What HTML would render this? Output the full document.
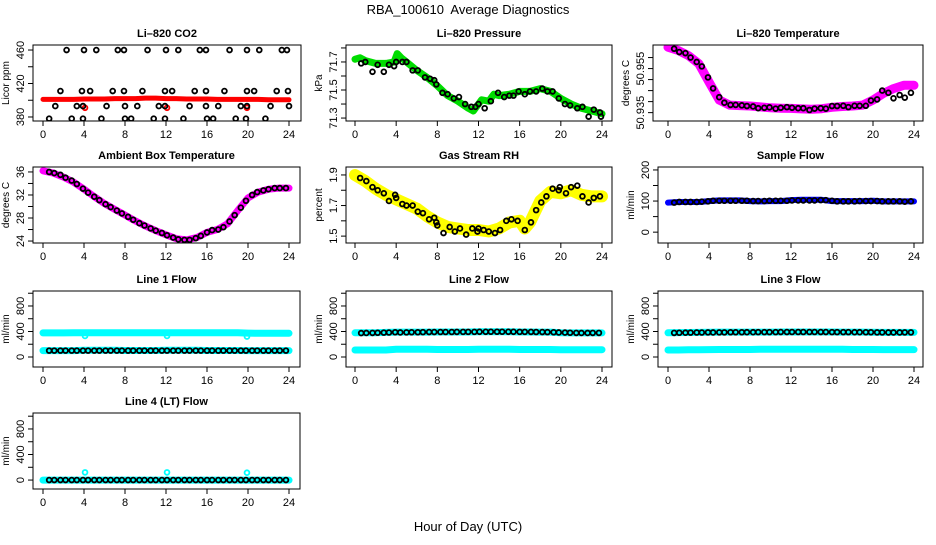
<!DOCTYPE html>
<html><head><meta charset="utf-8"><style>
body{margin:0;background:#fff;}
svg text{font-family:"Liberation Sans",sans-serif;fill:#000;}
</style></head><body>
<svg id="chart" width="936" height="540" viewBox="0 0 936 540" xmlns="http://www.w3.org/2000/svg">
<text x="468" y="14" font-size="13" text-anchor="middle" xml:space="preserve">RBA_100610  Average Diagnostics</text>
<text x="468" y="531" font-size="13" text-anchor="middle">Hour of Day (UTC)</text>
</svg>
<script>
const bandHours = [0,1,2,3,4,5,6,7,8,9,10,11,12,13,14,15,16,17,18,19,20,21,22,23,24];
const blackHours = [0.6,1.1,1.7,2.2,2.8,3.3,3.9,4.4,5.0,5.5,6.1,6.6,7.2,7.7,8.3,8.8,9.4,9.9,10.5,11.0,11.6,12.1,12.7,13.2,13.8,14.3,14.9,15.4,16.0,16.5,17.1,17.6,18.2,18.7,19.3,19.8,20.4,20.9,21.5,22.0,22.6,23.1,23.7];
const xTicks = [0,4,8,12,16,20,24];

// CO2
const co2Band = [401,401,401,401,401.5,401.5,401.5,402,402,402,402.5,402.5,402,402,401.5,401.5,401.5,401,401,401,401,401,400.5,400.5,400.5];
const co2RedHours = [4.1,12.1,19.9];
const co2RedValues = [391,391,391];
const co2BlackHours = [2.3,4.0,5.2,7.3,7.9,10.2,12.0,13.2,15.3,15.9,18.2,19.9,21.1,23.3,23.8, 1.7,3.8,4.6,6.8,7.9,9.7,11.9,12.6,14.8,15.9,17.7,19.9,20.6,22.8,23.9, 1.2,3.3,3.9,6.2,8.0,9.2,11.3,11.9,14.3,15.9,17.1,19.3,19.9,22.2,24.0, 0.6,2.8,3.9,5.7,8.0,8.6,10.8,11.9,13.7,16.0,16.6,18.8,19.8,21.7];
const co2BlackValues = [460,460,460,460,460,460,460,460,460,460,460,460,460,460,460, 411,411,411,411,411,411,411,411,411,411,411,411,411,411,411, 393,393,393,393,393,393,393,393,393,393,393,393,393,393,393, 378,378,378,378,378,378,378,378,378,378,378,378,378,378];

// Pressure
const presBandHours = [0,0.5,1,2,3,3.8,4.1,4.5,5,6,7,8,9,10,11,11.5,12,12.3,13,13.5,14,15,16,17,18,19,20,21,22,23,24];
const presBand = [71.72,71.73,71.71,71.69,71.69,71.70,71.76,71.73,71.70,71.64,71.59,71.53,71.46,71.42,71.37,71.35,71.40,71.43,71.42,71.47,71.46,71.47,71.49,71.49,71.51,71.49,71.44,71.40,71.37,71.35,71.33];
const presBlackHours = [0.6,1,1.7,2.2,2.8,3.3,3.8,4,4.6,5,5.6,6.1,6.8,7.3,7.7,7.9,8.5,9,9.6,10.1,10.7,11.3,11.7,12,12.6,13.2,13.9,14.5,15,15.4,15.9,16.5,17,17.6,18.2,18.7,19.2,19.8,20.4,20.9,21.6,22.1,22.7,23.2,23.8,23.9];
const presBlack = [71.69,71.70,71.63,71.68,71.63,71.68,71.67,71.70,71.70,71.70,71.64,71.64,71.59,71.58,71.57,71.54,71.48,71.47,71.44,71.45,71.40,71.38,71.38,71.40,71.37,71.42,71.48,71.45,71.46,71.46,71.49,71.47,71.49,71.49,71.51,71.49,71.49,71.44,71.40,71.39,71.37,71.38,71.31,71.36,71.34,71.31];

// Li-820 temperature
const tempBand = [50.9647,50.9632,50.9609,50.9572,50.9489,50.9407,50.9384,50.9382,50.9380,50.9376,50.9372,50.9370,50.9369,50.9367,50.9365,50.9368,50.9374,50.9378,50.9380,50.9384,50.9407,50.9437,50.9459,50.9474,50.9474];
const tempBlack = [50.9640,50.9625,50.9620,50.9600,50.9580,50.9560,50.9510,50.9460,50.9420,50.9395,50.9385,50.9385,50.9383,50.9380,50.9378,50.9370,50.9372,50.9374,50.9368,50.9372,50.9375,50.9372,50.9370,50.9370,50.9362,50.9368,50.9370,50.9368,50.9380,50.9380,50.9381,50.9375,50.9381,50.9381,50.9381,50.9405,50.9410,50.9450,50.9440,50.9415,50.9430,50.9418,50.9440];

// Ambient
const ambBand = [36.2,35.8,35.1,34.2,33.0,31.7,30.5,29.5,28.5,27.5,26.6,25.8,25.1,24.4,24.2,24.6,25.5,26.0,27.0,29.3,31.5,32.5,33.0,33.2,33.2];
const ambBlack = [36.0,35.8,35.5,35.0,34.5,33.9,33.1,32.4,31.7,31.1,30.4,29.9,29.3,28.8,28.2,27.7,27.1,26.7,26.2,25.8,25.4,25.0,24.6,24.3,24.2,24.2,24.5,24.9,25.5,25.9,26.0,26.4,27.4,28.5,29.8,31.0,32.0,32.5,32.8,33.0,33.2,33.2,33.2];

// RH
const rhBandHours = [0,1,2,3,4,5,6,7,8,9,10,11,12,13,14,15,16,16.5,17,17.5,18,19,20,21,22,23,24];
const rhBand = [1.90,1.86,1.81,1.77,1.74,1.71,1.68,1.63,1.59,1.56,1.55,1.54,1.54,1.53,1.55,1.59,1.60,1.55,1.59,1.66,1.73,1.79,1.78,1.80,1.77,1.76,1.76];
const rhBlackHours = [0.5,1.1,1.7,2.2,2.8,3.3,3.9,4.0,4.6,5.0,5.6,6.1,6.6,7.2,7.7,7.9,8.0,8.6,9.2,9.7,10.2,10.8,11.4,11.9,12.0,12.5,13.0,13.6,14.1,14.7,15.2,15.8,16.5,17.1,17.6,18.1,18.6,19.2,19.8,19.9,20.5,21.0,21.6,22.1,22.7,23.2,23.8];
const rhBlack = [1.88,1.86,1.82,1.80,1.78,1.73,1.77,1.75,1.71,1.70,1.70,1.66,1.65,1.61,1.62,1.59,1.57,1.52,1.56,1.53,1.55,1.51,1.55,1.53,1.55,1.54,1.53,1.52,1.54,1.60,1.61,1.60,1.54,1.59,1.67,1.72,1.76,1.81,1.80,1.82,1.78,1.82,1.83,1.76,1.72,1.75,1.76];

// Sample flow
const sfBand = [95,97,97,97,100,102,102,102,100,99,100,100,103,104,104,104,100,100,100,100,101,99,99,99,99];
const sfBlack = [95,97,97,97,97,98,99,101,101,101,101,101,101,101,100,100,100,101,101,101,101,102,102,102,102,102,103,103,101,99,99,99,99,100,100,100,100,99,99,99,99,98,99];

// Line flows
const l1Upper = [378,378,378,379,380,380,380,380,380,380,380,380,380,380,380,380,380,380,380,380,375,372,372,372,372];
const l1Lower = [100,100,100,100,105,105,105,105,102,102,102,102,105,105,105,105,102,102,102,102,100,100,100,100,100];
const l1Black = [100,100,100,100,100,100,100,100,100,100,100,100,100,100,100,100,100,100,100,100,100,100,100,100,100,100,100,100,100,100,100,100,100,100,100,100,100,100,100,100,100,100,100];
const l1OutHours = [4.1,12.1,19.9];
const l1OutValues = [330,330,320];
const l2Upper = [380,380,380,385,390,390,390,390,392,392,392,392,395,395,395,395,392,392,390,390,380,378,378,378,378];
const l2Lower = [110,110,110,110,120,120,120,120,118,118,118,118,120,120,120,120,118,118,118,118,115,115,115,115,115];
const l2Black = [375,377,378,380,382,384,388,385,386,388,388,390,391,391,392,392,392,393,394,394,394,395,395,396,396,396,395,395,394,394,393,392,391,390,388,385,383,380,378,377,377,378,378];
const l3Upper = [380,382,384,386,388,390,390,390,390,390,390,392,392,392,392,392,392,390,390,390,388,386,386,386,386];
const l3Lower = [110,110,112,114,116,118,118,118,118,120,120,122,122,122,122,122,120,120,118,118,118,116,116,116,116];
const l3Black = [378,380,381,382,384,384,386,385,386,386,388,388,388,389,389,390,390,390,390,391,391,392,392,392,392,392,391,391,390,390,390,390,389,389,388,388,386,386,385,385,385,386,386];
const l4Band = [0,0,0,0,0,0,0,0,0,0,0,0,0,0,0,0,0,0,0,0,0,0,0,0,0];
const l4Black = [0,0,0,0,0,0,0,0,0,0,0,0,0,0,0,0,0,0,0,0,0,0,0,0,0,0,0,0,0,0,0,0,0,0,0,0,0,0,0,0,0,0,0];
const l4OutHours = [4.1,12.1,19.9];
const l4OutValues = [120,120,115];

const NS = 'http://www.w3.org/2000/svg';
const svg = document.getElementById('chart');
function mk(tag, attrs, parent){
  const e = document.createElementNS(NS, tag);
  for (const k in attrs) e.setAttribute(k, attrs[k]);
  (parent||svg).appendChild(e);
  return e;
}

const panels = [
 {name:'co2', title:'Li\u2013820 CO2', ylab:'Licor ppm', L:33,R:301,x0:43,x24:289,T:45, ymin:375.2,ymax:466, ticks:[380,400,420,440,460], labels:['380','','420','','460'],
  series:[{t:'band',h:bandHours,v:co2Band,c:'#ff0000',w:5},{t:'pts',h:co2RedHours,v:co2RedValues,c:'#ff0000'},{t:'pts',h:co2BlackHours,v:co2BlackValues,c:'#000'}]},
 {name:'pressure', title:'Li\u2013820 Pressure', ylab:'kPa', L:346,R:612,x0:355,x24:602,T:45, ymin:71.279,ymax:71.821, ticks:[71.3,71.4,71.5,71.6,71.7,71.8], labels:['71.3','','71.5','','71.7',''],
  series:[{t:'band',h:presBandHours,v:presBand,c:'#00dd00',w:7},{t:'pts',h:presBlackHours,v:presBlack,c:'#000'}]},
 {name:'li820-temp', title:'Li\u2013820 Temperature', ylab:'degrees C', L:653,R:923,x0:668,x24:914,T:45, ymin:50.9312,ymax:50.9657, ticks:[50.935,50.94,50.945,50.95,50.955,50.96], labels:['50.935','','','','50.955',''],
  series:[{t:'band',h:bandHours,v:tempBand,c:'#ff00ff',w:9},{t:'pts',h:blackHours,v:tempBlack,c:'#000'}]},
 {name:'ambient', title:'Ambient Box Temperature', ylab:'degrees C', L:33,R:300,x0:43,x24:289,T:167, ymin:23.66,ymax:36.86, ticks:[24,26,28,30,32,34,36], labels:['24','','28','','32','','36'],
  series:[{t:'band',h:bandHours,v:ambBand,c:'#ff00ff',w:7},{t:'pts',h:blackHours,v:ambBlack,c:'#000'}]},
 {name:'rh', title:'Gas Stream RH', ylab:'percent', L:346,R:612,x0:355,x24:602,T:167, ymin:1.455,ymax:1.952, ticks:[1.5,1.6,1.7,1.8,1.9], labels:['1.5','','1.7','','1.9'],
  series:[{t:'band',h:rhBandHours,v:rhBand,c:'#ffff00',w:12},{t:'pts',h:rhBlackHours,v:rhBlack,c:'#000'}]},
 {name:'sample-flow', title:'Sample Flow', ylab:'ml/min', L:658,R:923,x0:668,x24:914,T:167, ymin:-34.9,ymax:209.5, ticks:[0,50,100,150,200], labels:['0','','100','','200'],
  series:[{t:'band',h:bandHours,v:sfBand,c:'#0000ff',w:6},{t:'pts',h:blackHours,v:sfBlack,c:'#000'}]},
 {name:'line1-flow', title:'Line 1 Flow', ylab:'ml/min', L:33,R:300,x0:43,x24:289,T:291, ymin:-157,ymax:1035, ticks:[0,200,400,600,800,1000], labels:['0','','400','','800',''],
  series:[{t:'band',h:bandHours,v:l1Upper,c:'#00ffff',w:7},{t:'band',h:bandHours,v:l1Lower,c:'#00ffff',w:7},{t:'pts',h:l1OutHours,v:l1OutValues,c:'#00ffff'},{t:'pts',h:blackHours,v:l1Black,c:'#000'}]},
 {name:'line2-flow', title:'Line 2 Flow', ylab:'ml/min', L:346,R:612,x0:355,x24:602,T:291, ymin:-157,ymax:1035, ticks:[0,200,400,600,800,1000], labels:['0','','400','','800',''],
  series:[{t:'band',h:bandHours,v:l2Upper,c:'#00ffff',w:7},{t:'band',h:bandHours,v:l2Lower,c:'#00ffff',w:7},{t:'pts',h:blackHours,v:l2Black,c:'#000'}]},
 {name:'line3-flow', title:'Line 3 Flow', ylab:'ml/min', L:658,R:923,x0:668,x24:914,T:291, ymin:-157,ymax:1035, ticks:[0,200,400,600,800,1000], labels:['0','','400','','800',''],
  series:[{t:'band',h:bandHours,v:l3Upper,c:'#00ffff',w:7},{t:'band',h:bandHours,v:l3Lower,c:'#00ffff',w:7},{t:'pts',h:blackHours,v:l3Black,c:'#000'}]},
 {name:'line4-flow', title:'Line 4 (LT) Flow', ylab:'ml/min', L:33,R:300,x0:43,x24:289,T:413, ymin:-140,ymax:1050, ticks:[0,200,400,600,800,1000], labels:['0','','400','','800',''],
  series:[{t:'band',h:bandHours,v:l4Band,c:'#00ffff',w:7},{t:'pts',h:l4OutHours,v:l4OutValues,c:'#00ffff'},{t:'pts',h:blackHours,v:l4Black,c:'#000'}]}
];

const H = 76;
panels.forEach(p => {
  const g = mk('g', {});
  
  
  const B = p.T + H;
  const xs = h => p.x0 + h * (p.x24 - p.x0) / 24;
  const ys = v => p.T + (p.ymax - v) / (p.ymax - p.ymin) * H;
  const clip = 'clip-' + p.name;
  const cp = mk('clipPath', {id: clip}, g);
  mk('rect', {x:p.L, y:p.T, width:p.R-p.L, height:H}, cp);
  const dg = mk('g', {'clip-path':'url(#'+clip+')'}, g);
  p.series.forEach((s, si) => {
    if (s.t === 'band') {
      const pts = s.h.map((h,i) => xs(h).toFixed(1)+','+ys(s.v[i]).toFixed(1)).join(' ');
      const pl = mk('polyline', {points:pts, fill:'none', stroke:s.c, 'stroke-width':s.w, 'stroke-linejoin':'round', 'stroke-linecap':'round'}, dg);
      
      
    } else {
      s.h.forEach((h,i) => {
        const c = mk('circle', {cx:xs(h), cy:ys(s.v[i]), r:2.4, fill:'none', stroke:s.c, 'stroke-width':1.8}, dg);
        
        
      });
    }
  });
  const fr = mk('rect', {x:p.L, y:p.T, width:p.R-p.L, height:H, fill:'none', stroke:'#000', 'stroke-width':1}, g);
  
  
  xTicks.forEach(t => {
    mk('line', {x1:xs(t), x2:xs(t), y1:B, y2:B+5, stroke:'#000'}, g);
    const tx = mk('text', {x:xs(t), y:B+17, 'font-size':11, 'text-anchor':'middle'}, g);
    tx.textContent = t;
    
    
  });
  p.ticks.forEach((t,i) => {
    const y = ys(t);
    mk('line', {x1:p.L-5, x2:p.L, y1:y, y2:y, stroke:'#000'}, g);
    if (p.labels[i]) {
      const tx = mk('text', {x:0, y:0, 'font-size':11, 'text-anchor':'middle', transform:'translate('+(p.L-9)+','+y+') rotate(-90)'}, g);
      tx.textContent = p.labels[i];
      
      
    }
  });
  const yl = mk('text', {x:0, y:0, 'font-size':10, 'text-anchor':'middle', transform:'translate('+(p.L-24)+','+(p.T+H/2)+') rotate(-90)'}, g);
  yl.textContent = p.ylab;
  
  
  const tt = mk('text', {x:(p.L+p.R)/2, y:p.T-8, 'font-size':11, 'font-weight':'bold', 'text-anchor':'middle'}, g);
  tt.textContent = p.title;
  
  
});
</script>
</body></html>
